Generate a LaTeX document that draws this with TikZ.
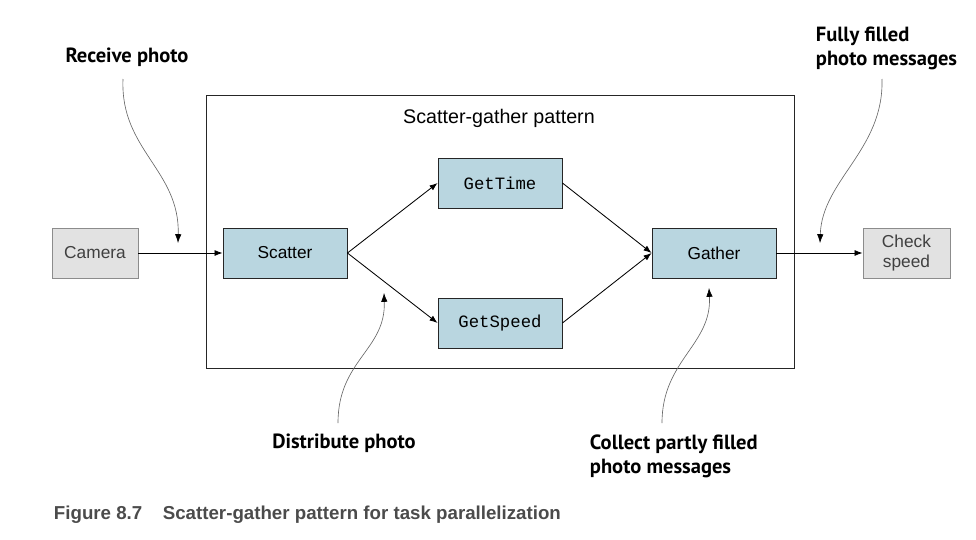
\documentclass[tikz,border=0pt]{standalone}
\usepackage{fontspec}
\setmainfont{Liberation Sans}
\setmonofont{Liberation Mono}
\newfontfamily\notefont{PT Sans}
\newfontfamily\capfont{Liberation Sans}
\usetikzlibrary{arrows.meta,positioning,calc}

\definecolor{stageblue}{RGB}{185,214,224}
\definecolor{endgrey}{RGB}{226,226,226}
\definecolor{capgrey}{RGB}{75,75,75}

\tikzset{
  stage/.style={draw=black!85, fill=stageblue, line width=0.6pt,
    minimum width=3.1cm, minimum height=1.25cm, inner sep=0pt,
    font=\fontsize{12.3}{14}\selectfont},
  endpoint/.style={draw=black!45, fill=endgrey, line width=0.6pt,
    minimum width=2.15cm, minimum height=1.25cm, inner sep=0pt, align=center,
    text=black!75, font=\fontsize{12.3}{14.5}\selectfont},
  flow/.style={-{Latex[length=2mm,width=1.5mm]}, line width=0.6pt},
  pointer/.style={draw=black!60, line width=0.45pt,
    -{Latex[length=2.2mm,width=1.6mm,color=black]}},
  note/.style={font=\notefont\bfseries\fontsize{14.6}{17}\selectfont, align=left}
}

\begin{document}
\begin{tikzpicture}[x=0.025cm, y=-0.025cm]
    \useasboundingbox (0,0) rectangle (976,540);

    % Pattern frame
    \draw[line width=0.6pt, black!85] (206,95) rectangle (794,368);
    \node[font=\fontsize{14}{16}\selectfont] (title) at (499,118) {Scatter-gather pattern};

    % Stages
    \node[endpoint] (camera) at (95,253) {Camera};
    \node[stage] (scatter) at (285,253) {Scatter};
    \node[stage, font=\ttfamily\fontsize{12.3}{14}\selectfont] (gettime) at (500,183) {GetTime};
    \node[stage, font=\ttfamily\fontsize{12.3}{14}\selectfont] (getspeed) at (500,323) {GetSpeed};
    \node[stage] (gather) at (714,253) {Gather};
    \node[endpoint, minimum width=2.175cm] (check) at (906.5,253) {Check\\speed};

    \draw[flow] (camera) -- (scatter);
    \draw[flow] (scatter.east) -- (gettime.west);
    \draw[flow] (scatter.east) -- (getspeed.west);
    \draw[flow] (gettime.east) -- (gather.west);
    \draw[flow] (getspeed.east) -- (gather.west);
    \draw[flow] (gather) -- (check);

    % Notes
    \node[note] (receive) at (127,57) {Receive photo};
    \coordinate (receivefrom) at (123,79);
    \coordinate (receiveto) at (178,243);
    \draw[pointer] (receivefrom) .. controls (120,150) and (180,170) .. (receiveto);

    \node[note, anchor=west] (filled) at (811,48) {Fully filled\\photo messages};
    \coordinate (filledfrom) at (882,79);
    \coordinate (filledto) at (820,243);
    \draw[pointer] (filledfrom) .. controls (884,150) and (822,180) .. (filledto);

    \node[note] (distribute) at (344,443) {Distribute photo};
    \coordinate (distributefrom) at (338,423);
    \coordinate (distributeto) at (384,293);
    \draw[pointer] (distributefrom) .. controls (338,360) and (386,350) .. (distributeto);

    \node[note, anchor=west] (collect) at (585,456) {Collect partly filled\\photo messages};
    \coordinate (collectfrom) at (662,423);
    \coordinate (collectto) at (709,288);
    \draw[pointer] (collectfrom) .. controls (662,360) and (712,345) .. (collectto);

    % Caption
    \node[anchor=west, text=capgrey, font=\capfont\bfseries\fontsize{13.3}{15}\selectfont] (caption) at (49,515)
        {Figure 8.7\hspace{1.1em}Scatter-gather pattern for task parallelization};
\end{tikzpicture}
\end{document}
